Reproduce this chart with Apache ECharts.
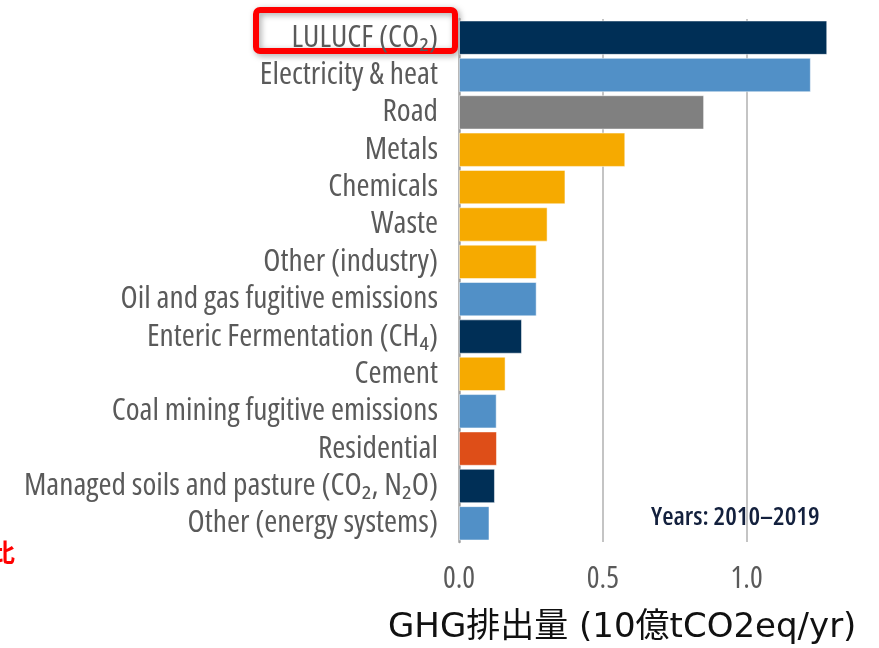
<!DOCTYPE html>
<html>
<head>
<meta charset="utf-8">
<script src="https://cdn.jsdelivr.net/npm/echarts@6/dist/echarts.min.js"></script>
<style>
  html, body { margin: 0; padding: 0; background: #fff; }
  #ghg_chart { width: 879px; height: 648px; }
</style>
</head>
<body>
<div id="ghg_chart"></div>
<script>
const categories = [
    'LULUCF (CO₂)',
    'Electricity & heat',
    'Road',
    'Metals',
    'Chemicals',
    'Waste',
    'Other (industry)',
    'Oil and gas fugitive emissions',
    'Enteric Fermentation (CH₄)',
    'Cement',
    'Coal mining fugitive emissions',
    'Residential',
    'Managed soils and pasture (CO₂, N₂O)',
    'Other (energy systems)'
];
const emissions = [1.28, 1.223, 0.852, 0.578, 0.37, 0.308, 0.27, 0.27, 0.219, 0.162, 0.131, 0.132, 0.125, 0.106];
// 部門ごとの色
const sectorColors = ['#002f56', '#5190c7', '#808080', '#f6aa00', '#f6aa00', '#f6aa00', '#f6aa00',
    '#5190c7', '#002f56', '#f6aa00', '#5190c7', '#de4e18', '#002f56', '#5190c7'];
const xTicks = [0, 0.5, 1.0];

const ghg_chart = echarts.init(document.getElementById('ghg_chart'));

const barData = emissions.map(function (v, i) {
    return {value: v, itemStyle: {color: sectorColors[i]}};
});

// Open Sans を condensed で使う (fontWeight に font-stretch を混ぜる)
const labelFont = '"Open Sans"';
const labelStretch = 'normal condensed';

const option = {
    animation: false,
    grid: {
        left: 459,
        right: 46,
        top: 19,
        bottom: 106,
        containLabel: false
    },
    xAxis: {
        type: 'value',
        min: 0,
        max: 1.3,
        interval: 0.5,
        axisLine: {show: false},
        axisTick: {show: false},
        axisLabel: {
            showMaxLabel: false,
            margin: 22,
            fontFamily: labelFont,
            fontWeight: labelStretch,
            fontSize: 30,
            color: '#5a5a5a',
            formatter: function (v) {
                return xTicks.indexOf(v) >= 0 ? v.toFixed(1) : '';
            }
        },
        splitLine: {
            show: true,
            showMinLine: false,
            showMaxLine: false,
            lineStyle: {color: '#b0b0b0', width: 1.5}
        }
    },
    yAxis: {
        type: 'category',
        inverse: true,
        data: categories,
        axisLine: {show: true, lineStyle: {color: '#a0a0a0', width: 2.5}},
        axisTick: {show: false},
        axisLabel: {
            interval: 0,
            margin: 21,
            fontFamily: labelFont,
            fontWeight: labelStretch,
            fontSize: 31.5,
            lineHeight: 34,
            color: '#5a5a5a'
        }
    },
    series: [{
        type: 'bar',
        data: barData,
        barCategoryGap: '8%',
        itemStyle: {borderColor: 'rgba(255,255,255,0.5)', borderWidth: 1}
    }],
    graphic: [
        {
            type: 'rect',
            shape: {x: 256, y: 10, width: 199, height: 41, r: 4},
            style: {fill: 'none', stroke: '#ff0000', lineWidth: 6,
                shadowBlur: 6, shadowColor: 'rgba(0,0,0,0.35)', shadowOffsetX: 2, shadowOffsetY: 2}
        },
        {
            type: 'text',
            left: 651,
            top: 505,
            style: {text: 'Years: 2010–2019', font: 'normal 600 condensed 26px "Open Sans"', fill: '#13203d'}
        },
        {
            type: 'text',
            left: -10,
            top: 540,
            style: {text: '比', font: 'bold 25px "Noto Sans CJK JP"', fill: '#ff0000'}
        },
        {
            type: 'text',
            left: 388,
            top: 611,
            style: {text: 'GHG排出量 (10億tCO2eq/yr)', font: '34px "DejaVu Sans", "Noto Sans CJK JP"', fill: '#111111'}
        }
    ]
};

ghg_chart.setOption(option);
</script>
</body>
</html>
